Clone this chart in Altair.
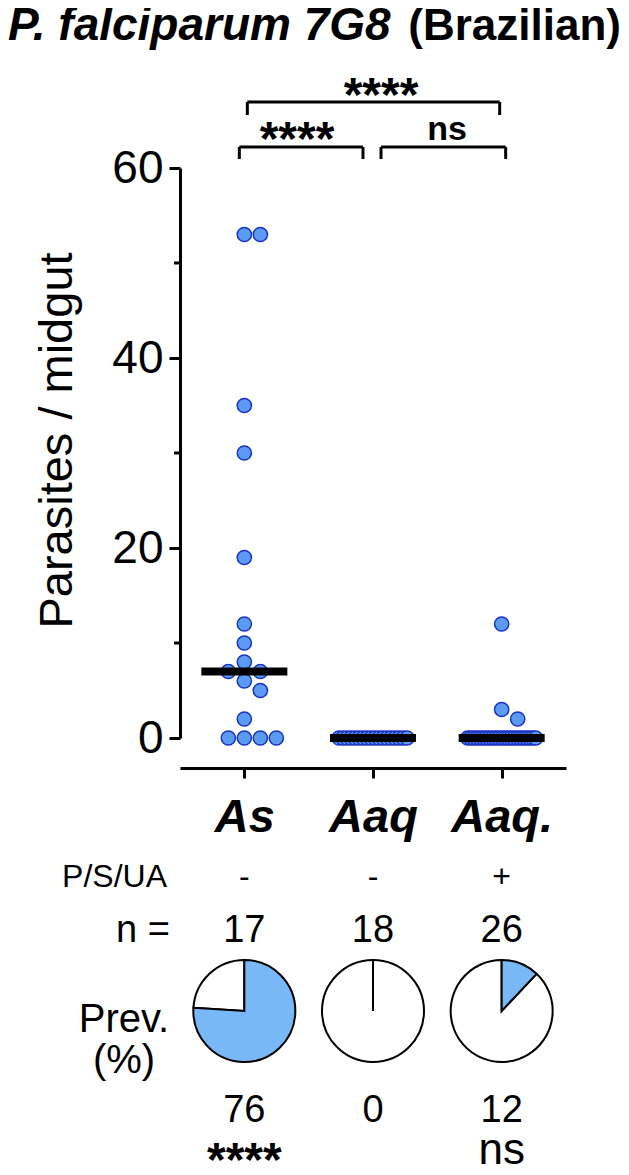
import math
import json
from collections import Counter

import altair as alt
import numpy as np
import pandas as pd

# ---------------- data ----------------
categories = ["As", "Aaq", "Aaq."]
as_values = [53, 53, 35, 30, 19, 12, 10, 8, 7, 7, 6, 5, 2, 0, 0, 0, 0]
aaq_values = [0] * 18
aaqp_values = [12, 3, 2] + [0] * 23
psua_marks = ["-", "-", "+"]
n_counts = [17, 18, 26]
prevalence = [76, 0, 12]
prev_sig = ["****", "", "ns"]
y_ticks = [0, 20, 40, 60]
y_minor = [10, 30, 50]

# ---------------- layout ----------------
FONT = "Liberation Sans"
W, H = 386, 570
PL, PT, PR = 172, 160, 55
PB = 1157 - PT - H
YMAX = 60
PX_X = W / 3.0          # pixels per category unit
PX_Y = H / YMAX         # pixels per parasite
DOT = 16                # dot diameter in px


def swarm(vals, d=DOT, heavy=6, span=68):
    """Simple beeswarm: returns list of (value, pixel offset)."""
    cnt = Counter(vals)
    placed, out = [], []
    for v, c in cnt.items():
        if c > heavy:
            for k in range(c):
                off = -span / 2 + span * k / (c - 1)
                placed.append((off, v * PX_Y))
                out.append((v, off))
    rest = sorted([v for v in vals if cnt[v] <= heavy], reverse=True)
    for v in rest:
        y = v * PX_Y
        chosen = None
        k = 0
        while chosen is None:
            cands = [0.0] if k == 0 else [k * d / 2, -k * d / 2]
            for c in cands:
                if all((c - x) ** 2 + (y - yy) ** 2 >= (d - 0.01) ** 2 for x, yy in placed):
                    chosen = c
                    break
            k += 1
        placed.append((chosen, y))
        out.append((v, chosen))
    return out


rows = []
for i, vals in enumerate([as_values, aaq_values, aaqp_values]):
    for v, off in swarm(vals):
        rows.append({"group": categories[i], "value": v, "xpos": i + 1 + off / PX_X})
pts = pd.DataFrame(rows)

med = pd.DataFrame({
    "idx": [1, 2, 3],
    "median": [float(np.median(v)) for v in [as_values, aaq_values, aaqp_values]],
})

catdf = pd.DataFrame({
    "idx": [1, 2, 3],
    "psua": psua_marks,
    "n": [str(n) for n in n_counts],
    "prev": [str(p) for p in prevalence],
    "sig": prev_sig,
})

pie_inf = pd.DataFrame({"idx": [1, 2, 3], "t0": [0, 0, 0], "t1": prevalence})
pie_uninf = pd.DataFrame({"idx": [1, 2, 3], "t0": prevalence, "t1": [100, 100, 100]})

minor = pd.DataFrame({"v": y_minor})

label_expr = "%s[datum.value - 1]" % json.dumps(categories)

xscale = alt.Scale(domain=[0.5, 3.5], nice=False, zero=False)
yscale = alt.Scale(domain=[0, YMAX], nice=False)

x_axis = alt.Axis(
    values=[1, 2, 3], labelExpr=label_expr, title=None, orient="bottom", offset=30,
    domainWidth=3, domainColor="black", tickWidth=3, tickSize=10, tickColor="black",
    labelFont=FONT, labelFontSize=47, labelFontWeight="bold", labelFontStyle="italic",
    labelColor="black", labelPadding=16, grid=False, labelFlush=False,
)
y_axis = alt.Axis(
    values=y_ticks, title="Parasites / midgut", titleFont=FONT, titleFontSize=47,
    titleFontWeight="normal", titleColor="black", titlePadding=30, titleY=272,
    domainWidth=3, domainColor="black", tickWidth=3, tickSize=11, tickColor="black",
    labelFont=FONT, labelFontSize=46, labelColor="black", labelPadding=6, grid=False,
)

points = alt.Chart(pts).mark_circle(
    size=math.pi * (DOT / 2) ** 2, fill="#5b9cf2", stroke="#1c32c4", strokeWidth=1.5, opacity=1
).encode(
    x=alt.X("xpos:Q", scale=xscale, axis=x_axis),
    y=alt.Y("value:Q", scale=yscale, axis=y_axis),
)

median_ticks = alt.Chart(med).mark_tick(
    orient="horizontal", size=86, thickness=8, color="black", opacity=1
).encode(x=alt.X("idx:Q"), y=alt.Y("median:Q"))

minor_ticks = alt.Chart(minor).mark_rule(color="black", strokeWidth=3).encode(
    x=alt.value(-6), x2=alt.value(0), y=alt.Y("v:Q")
)


def txt(text, x, y, size, weight="normal", style="normal", align="center"):
    return alt.Chart(pd.DataFrame({"a": [0]})).mark_text(
        text=text, font=FONT, fontSize=size, fontWeight=weight, fontStyle=style,
        align=align, baseline="alphabetic", color="black",
    ).encode(x=alt.value(x), y=alt.value(y))


title1 = txt("P. falciparum 7G8", -172, -128, 46, "bold", "italic", "left")
title2 = txt("(Brazilian)", 441, -128, 44, "bold", "normal", "right")


def bracket(a, b, oa, ob, ytop, ybot):
    d = pd.DataFrame({"a": [a], "b": [b]})
    h = alt.Chart(d).mark_rule(color="black", strokeWidth=3, xOffset=oa, x2Offset=ob).encode(
        x="a:Q", x2="b:Q", y=alt.value(ytop))
    l1 = alt.Chart(d).mark_rule(color="black", strokeWidth=3, xOffset=oa).encode(
        x="a:Q", y=alt.value(ytop), y2=alt.value(ybot))
    l2 = alt.Chart(d).mark_rule(color="black", strokeWidth=3, xOffset=ob).encode(
        x="b:Q", y=alt.value(ytop), y2=alt.value(ybot))
    return [h, l1, l2]


brackets = (bracket(1, 3, 3, -2, -66, -53) + bracket(1, 2, -5, -10, -21, -9)
            + bracket(2, 3, 8, 4, -21, -9))
sig_top = txt("****", 201, -57, 48, "bold")
sig_left = txt("****", 117, -13, 48, "bold")
sig_right = txt("ns", 267, -28, 34, "bold")


def row(field, y, size, weight="normal", filt=None):
    c = alt.Chart(catdf)
    if filt is not None:
        c = c.transform_filter(filt)
    return c.mark_text(font=FONT, fontSize=size, fontWeight=weight, align="center",
                       baseline="alphabetic", color="black").encode(
        x=alt.X("idx:Q"), y=alt.value(y), text=f"{field}:N")


psua_row = row("psua", 719, 32)
n_row = row("n", 774, 38)
prev_row = row("prev", 954, 38)
sig_stars = row("sig", 1008, 48, "bold", alt.datum.sig == "****")
sig_ns = row("sig", 996, 44, "normal", alt.datum.sig == "ns")

psua_lbl = txt("P/S/UA", -13, 719, 32, align="right")
n_lbl = txt("n =", -10, 774, 38, align="right")
prev_lbl = txt("Prev.", -56, 864, 40)
pct_lbl = txt("(%)", -56, 905, 40)

theta_scale = alt.Scale(domain=[0, 100], range=[0, 2 * math.pi])


def pie_layer(df, fill):
    return alt.Chart(df).mark_arc(
        outerRadius=51, stroke="black", strokeWidth=2, fill=fill
    ).encode(
        x=alt.X("idx:Q", stack=None),
        y=alt.value(843),
        theta=alt.Theta("t0:Q", scale=theta_scale, stack=None),
        theta2="t1:Q",
    )


pie_white = pie_layer(pie_uninf, "#ffffff")
pie_blue = pie_layer(pie_inf, "#78b8f6")

chart = alt.layer(
    points, median_ticks, minor_ticks, title1, title2, *brackets, sig_top, sig_left, sig_right,
    psua_row, n_row, prev_row, sig_stars, sig_ns, psua_lbl, n_lbl, prev_lbl, pct_lbl,
    pie_white, pie_blue,
).properties(
    width=W, height=H,
    autosize=alt.AutoSizeParams(type="none"),
    padding={"left": PL, "top": PT, "right": PR, "bottom": PB},
    background="white",
).configure_view(stroke=None)

chart.save("out.html", embed_options={"renderer": "svg", "actions": False})
